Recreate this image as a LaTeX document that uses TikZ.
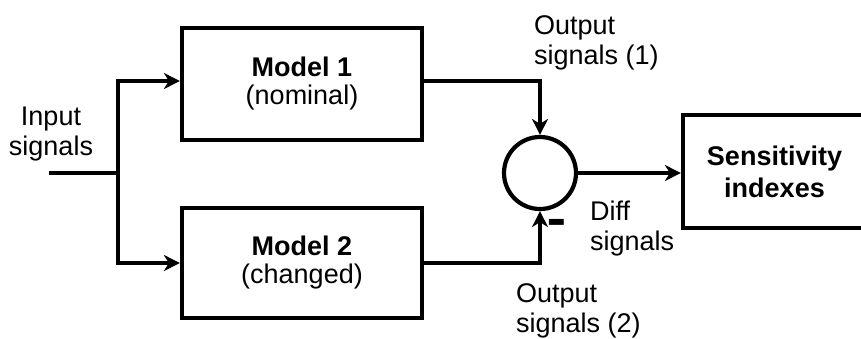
\documentclass[tikz,border=0pt]{standalone}
\usepackage{fontspec}
\setmainfont{Liberation Sans}
\usetikzlibrary{arrows.meta}
\begin{document}
\begin{tikzpicture}[x=1pt,y=-1pt,
  line width=4.2pt,
  lbl/.style={font=\fontsize{27}{30}\selectfont, inner sep=0pt, align=left, anchor=north west},
  blk/.style={draw, line width=4.2pt, rectangle, font=\fontsize{27}{28}\selectfont, align=center, inner sep=0pt},
  arr/.style={-{Stealth[length=16pt,width=16pt,inset=5pt]}},
  ]
\useasboundingbox (0,0) rectangle (861,338);
\clip (0,0) rectangle (861,338);

\node[blk, minimum width=240pt, minimum height=112pt] (m1) at (302,84) {\textbf{Model 1}\\(nominal)};
\node[blk, minimum width=240pt, minimum height=110pt] (m2) at (302,263) {\textbf{Model 2}\\(changed)};
\node[draw, circle, line width=4.2pt, minimum size=72pt, inner sep=0pt] (sum) at (540,173) {};
\node[blk, font=\fontsize{27}{32}\selectfont\bfseries, minimum width=183pt, minimum height=113pt] (sens) at (774.5,171.5) {Sensitivity\\indexes};

\coordinate (in) at (49,173);
\coordinate (j) at (118,173);
\draw (in) -- (j);
\draw[arr] (j) |- ([yshift=3pt]m1.west);
\draw[arr] (j) |- (m2.west);
\draw[arr] ([yshift=3pt]m1.east) -| (sum.north);
\draw[arr] (m2.east) -| (sum.south);
\draw[arr] (sum.east) -- (sum.east -| sens.west);

\node[lbl, align=center, anchor=north] (lin) at (51,105) {Input\\signals};
\node[lbl] (lo1) at (532,14) {Output\\signals (1)};
\node[lbl] (ldf) at (588,199) {Diff\\signals};
\node[lbl] (lo2) at (514,282) {Output\\signals (2)};
\node[inner sep=0pt, font=\fontsize{30}{30}\selectfont\bfseries] (minus) at (556.5,229) {\scalebox{1}[2]{–}};
\end{tikzpicture}
\end{document}
